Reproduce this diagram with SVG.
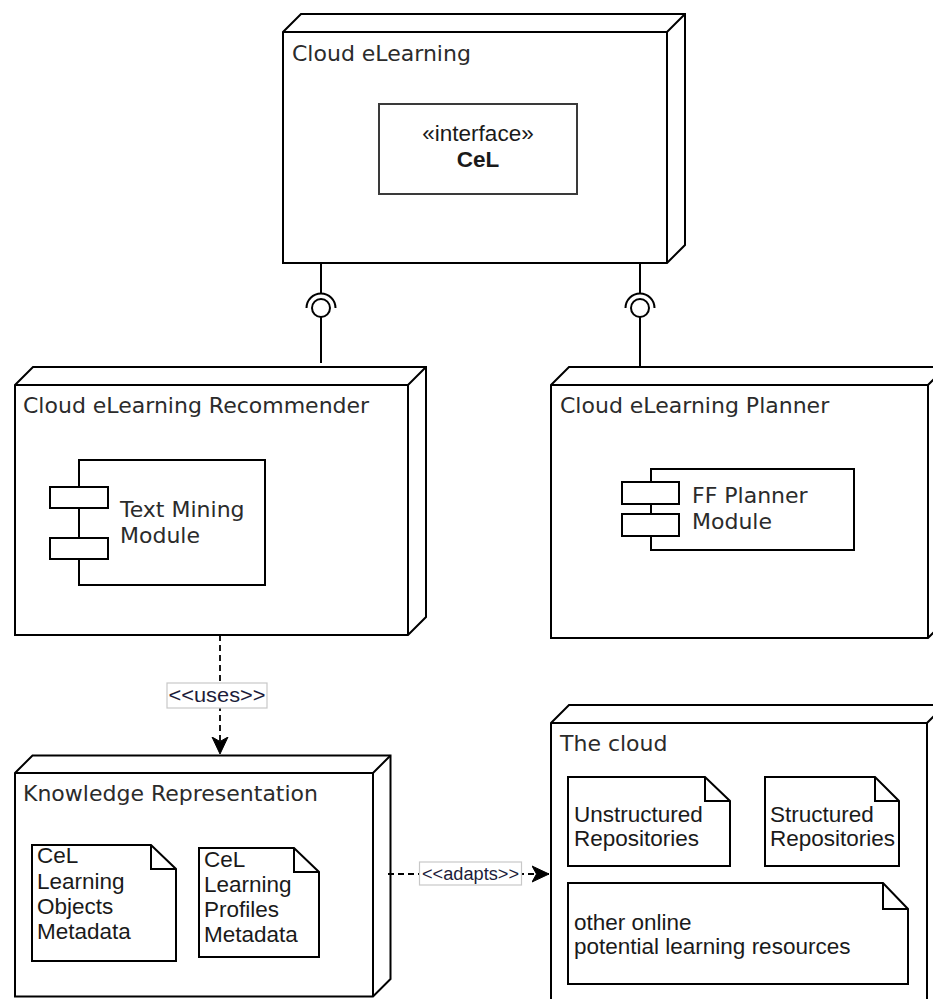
<svg xmlns="http://www.w3.org/2000/svg" width="933" height="999" viewBox="0 0 933 999">
  <style>
    .node { fill: #ffffff; stroke: #000000; stroke-width: 2; stroke-linejoin: miter; }
    .edge { fill: none; stroke: #000000; stroke-width: 2; }
    .box { fill: #ffffff; stroke: #000000; stroke-width: 2; }
    .title { font-family: "DejaVu Sans", Verdana, sans-serif; font-size: 22px; fill: #2b2b2b; }
    .txt { font-family: "Liberation Sans", Arial, sans-serif; font-size: 22.5px; fill: #1a1a1a; }
    .dash { fill: none; stroke: #000000; stroke-width: 1.8; stroke-dasharray: 6 4; }
    .lbl { fill: #ffffff; stroke: #c8c8c8; stroke-width: 1.2; }
    .lbltxt { font-family: "Liberation Sans", Arial, sans-serif; fill: #1c1c3a; }
  </style>
  <defs>
    <marker id="arrow" viewBox="0 0 18 18" refX="17" refY="9" markerWidth="18" markerHeight="18" markerUnits="userSpaceOnUse" orient="auto">
      <path d="M17,9 L0,1 L4.5,9 L0,17 Z" fill="#000000" stroke="#000000" stroke-width="1"/>
    </marker>
  </defs>

  <!-- Cloud eLearning node -->
  <g id="node-cloud-elearning">
    <path class="node" d="M283,32 L301,14 L685,14 L685,245 L667,263 L283,263 Z"/>
    <path class="edge" d="M283,32 L667,32 L685,14 M667,32 L667,263"/>
    <text class="title" x="292" y="61">Cloud eLearning</text>
    <g id="interface-cel">
      <rect x="379" y="104" width="198" height="90" fill="#ffffff" stroke="#3a3a3a" stroke-width="2"/>
      <text class="txt" x="478" y="141" text-anchor="middle" font-size="21">«interface»</text>
      <text class="txt" x="478" y="167" text-anchor="middle" font-size="21" font-weight="bold">CeL</text>
    </g>
  </g>

  <!-- Cloud eLearning Recommender node -->
  <g id="node-recommender">
    <path class="node" d="M15,385 L33,367 L426,367 L426,617 L408,635 L15,635 Z"/>
    <path class="edge" d="M15,385 L408,385 L426,367 M408,385 L408,635"/>
    <text class="title" x="23" y="413">Cloud eLearning Recommender</text>
    <g id="component-text-mining">
      <rect class="box" x="79" y="460" width="186" height="125"/>
      <rect class="box" x="50" y="487" width="58" height="21"/>
      <rect class="box" x="50" y="538" width="58" height="21"/>
      <text class="title" x="120" y="517">Text Mining</text>
      <text class="title" x="120" y="543">Module</text>
    </g>
  </g>

  <!-- Cloud eLearning Planner node -->
  <g id="node-planner">
    <path class="node" d="M551,385 L569,367 L946,367 L946,620 L928,638 L551,638 Z"/>
    <path class="edge" d="M551,385 L928,385 L946,367 M928,385 L928,638"/>
    <text class="title" x="560" y="413">Cloud eLearning Planner</text>
    <g id="component-ff-planner">
      <rect class="box" x="651" y="469" width="203" height="81"/>
      <rect class="box" x="622" y="482" width="57" height="22"/>
      <rect class="box" x="622" y="514" width="57" height="22"/>
      <text class="title" x="692" y="503">FF Planner</text>
      <text class="title" x="692" y="529">Module</text>
    </g>
  </g>

  <!-- Knowledge Representation node -->
  <g id="node-knowledge">
    <path class="node" d="M15,773 L32.5,755.5 L390.5,755.5 L390.5,979 L373,996.5 L15,996.5 Z"/>
    <path class="edge" d="M15,773 L373,773 L390.5,755.5 M373,773 L373,996.5"/>
    <text class="title" x="23" y="801">Knowledge Representation</text>
    <g id="note-objects-metadata">
      <path class="box" d="M32,845 L151,845 L176,869 L176,961 L32,961 Z"/>
      <path class="edge" d="M151,845 L151,869 L176,869"/>
      <text class="txt" x="37" y="863">CeL</text>
      <text class="txt" x="37" y="889">Learning</text>
      <text class="txt" x="37" y="914">Objects</text>
      <text class="txt" x="37" y="939">Metadata</text>
    </g>
    <g id="note-profiles-metadata">
      <path class="box" d="M199,848 L294,848 L319,872 L319,957 L199,957 Z"/>
      <path class="edge" d="M294,848 L294,872 L319,872"/>
      <text class="txt" x="204" y="867">CeL</text>
      <text class="txt" x="204" y="892">Learning</text>
      <text class="txt" x="204" y="917">Profiles</text>
      <text class="txt" x="204" y="942">Metadata</text>
    </g>
  </g>

  <!-- The cloud node -->
  <g id="node-the-cloud">
    <path class="node" d="M551,723 L569,705 L945,705 L945,1005 L927,1023 L551,1023 Z"/>
    <path class="edge" d="M551,723 L927,723 L945,705 M927,723 L927,1023"/>
    <text class="title" x="560" y="751">The cloud</text>
    <g id="note-unstructured">
      <path class="box" d="M568,777 L705,777 L730,801 L730,866 L568,866 Z"/>
      <path class="edge" d="M705,777 L705,801 L730,801"/>
      <text class="txt" x="574" y="822">Unstructured</text>
      <text class="txt" x="574" y="846">Repositories</text>
    </g>
    <g id="note-structured">
      <path class="box" d="M765,777 L875,777 L899,801 L899,866 L765,866 Z"/>
      <path class="edge" d="M875,777 L875,801 L899,801"/>
      <text class="txt" x="770" y="822">Structured</text>
      <text class="txt" x="770" y="846">Repositories</text>
    </g>
    <g id="note-other-resources">
      <path class="box" d="M568,883 L883,883 L908,909 L908,984 L568,984 Z"/>
      <path class="edge" d="M883,883 L883,909 L908,909"/>
      <text class="txt" x="574" y="930">other online</text>
      <text class="txt" x="574" y="954">potential learning resources</text>
    </g>
  </g>

  <!-- Connectors -->
  <g id="connectors">
    <!-- required / provided interface sockets -->
    <g id="socket-recommender">
      <path class="edge" d="M321,263 L321,294"/>
      <path class="edge" d="M306.5,308 A14.5,14.5 0 0 1 335.5,308"/>
      <circle class="box" cx="321" cy="308" r="9"/>
      <path class="edge" d="M321,317 L321,363"/>
    </g>
    <g id="socket-planner">
      <path class="edge" d="M640,263 L640,294"/>
      <path class="edge" d="M625.5,308 A14.5,14.5 0 0 1 654.5,308"/>
      <circle class="box" cx="640" cy="308" r="9"/>
      <path class="edge" d="M640,317 L640,367"/>
    </g>
    <!-- uses dependency -->
    <g id="edge-uses">
      <path class="dash" d="M220,635 L220,754" marker-end="url(#arrow)"/>
      <rect class="lbl" x="167" y="683" width="100" height="25"/>
      <text class="lbltxt" x="217" y="702" text-anchor="middle" font-size="20" textLength="97" lengthAdjust="spacingAndGlyphs">&lt;&lt;uses&gt;&gt;</text>
    </g>
    <!-- adapts dependency -->
    <g id="edge-adapts">
      <path class="dash" d="M388,874 L549,874" marker-end="url(#arrow)"/>
      <rect class="lbl" x="419.5" y="862" width="102" height="23"/>
      <text class="lbltxt" x="470.5" y="880" text-anchor="middle" font-size="18" textLength="97" lengthAdjust="spacingAndGlyphs">&lt;&lt;adapts&gt;&gt;</text>
    </g>
  </g>
</svg>
